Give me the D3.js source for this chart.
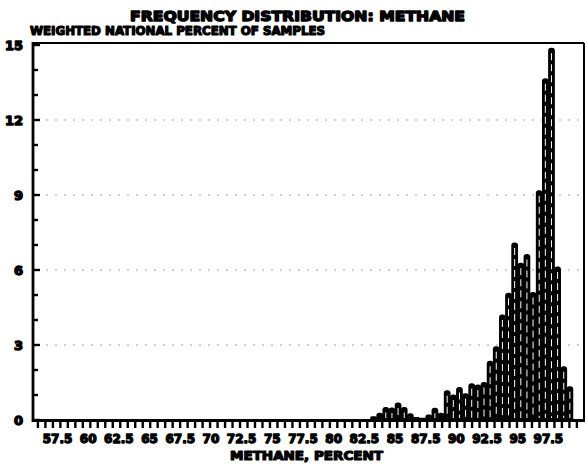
<!DOCTYPE html>
<html>
<head>
<meta charset="utf-8">
<script src="https://cdn.jsdelivr.net/npm/d3@7"></script>
<style>
  html, body { margin: 0; padding: 0; background: #fff; }
  svg { display: block; }
  text { font-family: "DejaVu Sans", sans-serif; font-weight: bold; fill: #000; stroke: #000; stroke-linejoin: round; }
</style>
</head>
<body>
<svg id="chart" width="588" height="467"></svg>
<script>
// Methane content bins (lower edge, percent) and weighted share of samples (%)
const binStarts = [83.0, 83.5, 84.0, 84.5, 85.0, 85.5, 86.0, 86.5, 87.0, 87.5, 88.0, 88.5,
                   89.0, 89.5, 90.0, 90.5, 91.0, 91.5, 92.0, 92.5, 93.0, 93.5, 94.0, 94.5,
                   95.0, 95.5, 96.0, 96.5, 97.0, 97.5, 98.0, 98.5, 99.0];
const shares = [0.13, 0.27, 0.50, 0.48, 0.68, 0.50, 0.25, 0.10, 0.07, 0.20, 0.47, 0.27,
                1.17, 1.00, 1.30, 1.05, 1.45, 1.40, 1.50, 2.35, 2.93, 4.20, 5.07, 7.08,
                6.27, 6.62, 5.10, 9.17, 13.65, 14.87, 6.12, 2.13, 1.33];
const binWidth = 0.5;

const xLabels = ["57.5", "60", "62.5", "65", "67.5", "70", "72.5", "75", "77.5", "80",
                 "82.5", "85", "87.5", "90", "92.5", "95", "97.5"];
const yMajor = [0, 3, 6, 9, 12, 15];
const yGrid = [3, 6, 9, 12];

const titleText = "FREQUENCY DISTRIBUTION: METHANE";
const subtitleText = "WEIGHTED NATIONAL PERCENT OF SAMPLES";
const xTitleText = "METHANE, PERCENT";

const svg = d3.select("#chart");
const plotL = 33, plotR = 584, plotT = 43, plotB = 420;

const x = d3.scaleLinear().domain([55.5, 100.4]).range([plotL, plotR]);
const y = d3.scaleLinear().domain([0, 15.08]).range([plotB, plotT]);

// faint dotted gridlines
svg.append("g").selectAll("line").data(yGrid).join("line")
  .attr("x1", plotL + 4).attr("x2", plotR - 2)
  .attr("y1", d => y(d)).attr("y2", d => y(d))
  .attr("stroke", "#a0a0a0").attr("stroke-width", 1)
  .attr("stroke-dasharray", "2,7");

// histogram bars: heavy inked blocks with a thin white dashed slit down the middle
const bars = svg.append("g");
binStarts.forEach((b, i) => {
  const x0 = x(b), x1 = x(b + binWidth), yt = y(shares[i]);
  const h = plotB - yt;
  bars.append("rect")
    .attr("x", x0 - 0.3).attr("y", yt - 0.5)
    .attr("width", x1 - x0 + 0.6).attr("height", h + 2.5)
    .attr("rx", Math.min(3, h / 2)).attr("fill", "#000");
  if (h > 8) {
    const cx = (x0 + x1) / 2;
    bars.append("line")
      .attr("x1", cx).attr("x2", cx)
      .attr("y1", yt + 5).attr("y2", plotB - 2)
      .attr("stroke", "#fff").attr("stroke-width", 1)
      .attr("stroke-dasharray", "7,4");
  }
});

// frame
const frame = svg.append("g").attr("stroke", "#000").attr("fill", "none");
frame.append("line").attr("x1", plotL).attr("x2", plotR).attr("y1", plotT).attr("y2", plotT).attr("stroke-width", 2.2);
frame.append("line").attr("x1", plotR).attr("x2", plotR).attr("y1", plotT).attr("y2", plotB).attr("stroke-width", 2);
frame.append("line").attr("x1", plotL).attr("x2", plotL).attr("y1", plotT - 1).attr("y2", plotB + 2).attr("stroke-width", 2.8);
frame.append("line").attr("x1", plotL).attr("x2", plotR + 1).attr("y1", plotB + 0.5).attr("y2", plotB + 0.5).attr("stroke-width", 3);

// y axis: inward ticks every unit, labels every 3
const yTicks = d3.range(0, 16, 1);
svg.append("g").selectAll("line").data(yTicks).join("line")
  .attr("x1", plotL).attr("x2", d => plotL + (d % 3 === 0 ? 7 : 5))
  .attr("y1", d => y(d)).attr("y2", d => y(d))
  .attr("stroke", "#000").attr("stroke-width", 2.4);
svg.append("g").selectAll("text").data(yMajor).join("text")
  .attr("x", 23).attr("y", d => y(d) + 5)
  .attr("text-anchor", "end").attr("font-size", 13).attr("stroke-width", 1.4)
  .text(d => d);

// x axis: dense downward ticks and labels every 2.5
const xTicks = d3.range(55.9, 100.3, 0.61);
svg.append("g").selectAll("line").data(xTicks).join("line")
  .attr("x1", d => x(d)).attr("x2", d => x(d))
  .attr("y1", plotB).attr("y2", plotB + 8)
  .attr("stroke", "#000").attr("stroke-width", 2.4);
svg.append("g").selectAll("text").data(xLabels).join("text")
  .attr("x", d => x(+d)).attr("y", 443)
  .attr("text-anchor", "middle").attr("font-size", 12).attr("stroke-width", 1.3)
  .text(d => d);

// titles
svg.append("text").attr("x", 130).attr("y", 21)
  .attr("font-size", 14).attr("stroke-width", 1.4)
  .attr("textLength", 335).attr("lengthAdjust", "spacingAndGlyphs")
  .text(titleText);
svg.append("text").attr("x", 30).attr("y", 35)
  .attr("font-size", 12).attr("stroke-width", 1.2)
  .attr("textLength", 295).attr("lengthAdjust", "spacingAndGlyphs")
  .text(subtitleText);
svg.append("text").attr("x", 230).attr("y", 460)
  .attr("font-size", 12).attr("stroke-width", 1.2)
  .attr("textLength", 153).attr("lengthAdjust", "spacingAndGlyphs")
  .text(xTitleText);
</script>
</body>
</html>
